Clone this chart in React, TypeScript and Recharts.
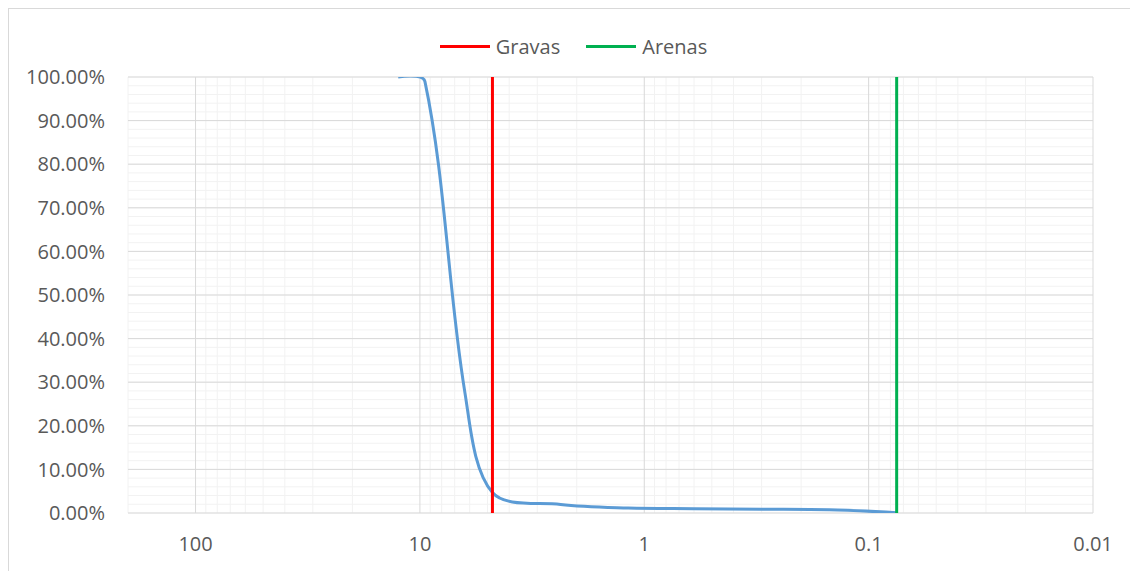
import React from "react"
import { LineChart, Line, XAxis, YAxis, CartesianGrid, Legend } from "recharts"

// sieve opening (mm) and cumulative % passing
const sieveSizes = [12.5, 9.5, 6.3, 4.75, 2.36, 1.18, 0.6, 0.3, 0.15, 0.075]
const passing = [1.0, 0.99, 0.276, 0.047, 0.0195, 0.0115, 0.01, 0.0087, 0.0072, 0.0008]

const gravasLimit = 4.75
const arenasLimit = 0.075

const xTicks = [100, 10, 1, 0.1, 0.01]
const yTicks = [0, 0.1, 0.2, 0.3, 0.4, 0.5, 0.6, 0.7, 0.8, 0.9, 1]
const legendOrder = ["Gravas", "Arenas"]

const curveData = sieveSizes.map((size, i) => ({ x: size, y: passing[i] }))
const gravasData = [{ x: gravasLimit, y: 0 }, { x: gravasLimit, y: 1 }]
const arenasData = [{ x: arenasLimit, y: 0 }, { x: arenasLimit, y: 1 }]

// minor log gridlines: 2..9 of each decade, up to the 200 edge
const minorX: number[] = []
xTicks.forEach((d) => {
  for (let m = 2; m <= 9; m++) {
    const v = +(d * m).toPrecision(3)
    if (v <= 200) minorX.push(v)
  }
})
const minorY: number[] = []
for (let i = 0; i <= 50; i++) minorY.push(i / 50)

const textColor = "#595959"
const font = "'Open Sans', sans-serif"

// Excel-like smoothed line: bezier with distance weighted tangents
function excelSmooth(context: any) {
  let pts: number[][] = []
  const tension = 1 / 3
  const dist = (a: number[], b: number[]) => Math.hypot(b[0] - a[0], b[1] - a[1])
  return {
    areaStart() {},
    areaEnd() {},
    lineStart() {
      pts = []
    },
    point(x: number, y: number) {
      pts.push([+x, +y])
    },
    lineEnd() {
      const n = pts.length
      if (!n) return
      // control points before / after each point
      const before: number[][] = []
      const after: number[][] = []
      for (let i = 0; i < n; i++) {
        const p = pts[i]
        if (i === 0 || i === n - 1) {
          before.push(p)
          after.push(p)
          continue
        }
        const p0 = pts[i - 1]
        const p2 = pts[i + 1]
        const d01 = dist(p0, p)
        const d12 = dist(p, p2)
        const sum = d01 + d12 || 1
        const fa = (tension * d01) / sum
        const fb = (tension * d12) / sum
        before.push([p[0] - fa * (p2[0] - p0[0]), p[1] - fa * (p2[1] - p0[1])])
        after.push([p[0] + fb * (p2[0] - p0[0]), p[1] + fb * (p2[1] - p0[1])])
      }
      context.moveTo(pts[0][0], pts[0][1])
      for (let i = 0; i < n - 1; i++) {
        const c1 = after[i]
        const c2 = before[i + 1]
        context.bezierCurveTo(c1[0], c1[1], c2[0], c2[1], pts[i + 1][0], pts[i + 1][1])
      }
    },
  }
}

const renderLegend = (props: any) => {
  const items = (props.payload || [])
    .filter((p: any) => p.type !== "none")
    .sort((a: any, b: any) => legendOrder.indexOf(a.value) - legendOrder.indexOf(b.value))
  return (
    <div style={{ display: "flex", justifyContent: "center", alignItems: "center", fontFamily: font, fontSize: 20, color: textColor }}>
      {items.map((item: any) => (
        <div key={item.value} style={{ display: "flex", alignItems: "center", margin: "0 13px" }}>
          <div style={{ width: 50, height: 3, background: item.color, marginRight: 6 }} />
          <span>{item.value}</span>
        </div>
      ))}
    </div>
  )
}

export default function App() {
  return (
    <div style={{ borderLeft: "1px solid #d9d9d9", borderTop: "1px solid #d9d9d9", width: 1129, height: 562 }}>
      <LineChart width={1129} height={562} margin={{ top: 68, right: 45, left: 0, bottom: 28 }}>
        <CartesianGrid stroke="#f2f2f2" strokeWidth={1} verticalValues={minorX} horizontalValues={minorY} />
        <CartesianGrid stroke="#d9d9d9" strokeWidth={1} verticalValues={xTicks} horizontalValues={yTicks} />
        <XAxis
          dataKey="x"
          type="number"
          scale="log"
          domain={[0.01, 200]}
          reversed
          allowDataOverflow
          ticks={xTicks}
          interval={0}
          tickFormatter={(v) => String(v)}
          axisLine={false}
          tickLine={false}
          tickSize={0}
          tickMargin={24}
          height={30}
          tick={{ fill: textColor, fontSize: 20, fontFamily: font }}
        />
        <YAxis
          dataKey="y"
          type="number"
          domain={[0, 1]}
          allowDataOverflow
          ticks={yTicks}
          interval={0}
          tickFormatter={(v) => (v * 100).toFixed(2) + "%"}
          axisLine={false}
          tickLine={false}
          tickSize={0}
          tickMargin={23}
          width={119}
          tick={{ fill: textColor, fontSize: 20, fontFamily: font }}
        />
        <Legend verticalAlign="middle" align="center" wrapperStyle={{ top: 24, left: 0, width: 1129 }} content={renderLegend} />
        <Line
          data={curveData}
          dataKey="y"
          name="Granulometría"
          type={excelSmooth as any}
          stroke="#5b9bd5"
          strokeWidth={3}
          dot={false}
          legendType="none"
          isAnimationActive={false}
        />
        <Line data={gravasData} dataKey="y" name="Gravas" type="linear" stroke="#ff0000" strokeWidth={3} dot={false} isAnimationActive={false} />
        <Line data={arenasData} dataKey="y" name="Arenas" type="linear" stroke="#00b050" strokeWidth={3} dot={false} isAnimationActive={false} />
      </LineChart>
    </div>
  )
}
